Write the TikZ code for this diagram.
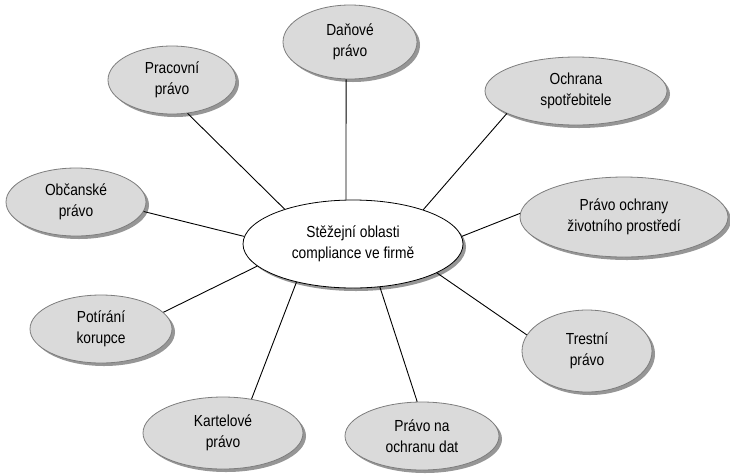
\documentclass[tikz,border=0pt]{standalone}
\usepackage{fontspec}
\setmainfont[FakeStretch=0.86]{Liberation Sans}
\usetikzlibrary{shadows,shapes.geometric}
\definecolor{fillg}{RGB}{218,218,218}
\definecolor{edgeg}{RGB}{125,125,125}
\definecolor{shad}{RGB}{150,150,150}
\begin{document}
\begin{tikzpicture}[x=1pt,y=-1pt,
  base/.style={ellipse, inner sep=0pt, align=center, line width=0.8pt,
    font=\fontsize{16}{21}\selectfont,
    drop shadow={shadow xshift=3pt, shadow yshift=-3pt, fill=shad, opacity=1}},
  area/.style={base, draw=edgeg, fill=fillg},
  hub/.style={base, draw=black, fill=white},
  link/.style={draw=black, line width=0.9pt}]
\useasboundingbox (0,0) rectangle (730,475);
\node[hub, minimum width=220pt, minimum height=88pt] (c) at (353,244) {Stěžejní oblasti\\compliance ve firmě};
\node[area, minimum width=134pt, minimum height=74pt] (d) at (350,42) {Daňové\\právo};
\node[area, minimum width=128pt, minimum height=68pt] (p) at (172,80) {Pracovní\\právo};
\node[area, minimum width=182pt, minimum height=68pt] (o) at (576,91) {Ochrana\\spotřebitele};
\node[area, minimum width=208pt, minimum height=80pt] (e) at (624,217) {Právo ochrany\\životního prostředí};
\node[area, minimum width=140pt, minimum height=68pt] (b) at (76,202) {Občanské\\právo};
\node[area, minimum width=142pt, minimum height=68pt] (k) at (101,329) {Potírání\\korupce};
\node[area, minimum width=130pt, minimum height=82pt] (t) at (587,351) {Trestní\\právo};
\node[area, minimum width=160pt, minimum height=72pt] (r) at (223,433) {Kartelové\\právo};
\node[area, minimum width=154pt, minimum height=68pt] (n) at (422,436) {Právo na\\ochranu dat};
\draw[link] (c.99.7) -- (d.-96);
\draw[link] (c.153) -- (p.-65);
\draw[link] (c.26) -- (o.198);
\draw[link] (c.4) -- (e.178);
\draw[link] (c.176) -- (b.-8);
\draw[link] (c.193) -- (k.15);
\draw[link] (c.-19) -- (t.165);
\draw[link] (c.214) -- (r.50);
\draw[link] (c.-58) -- (n.98);
\end{tikzpicture}
\end{document}
